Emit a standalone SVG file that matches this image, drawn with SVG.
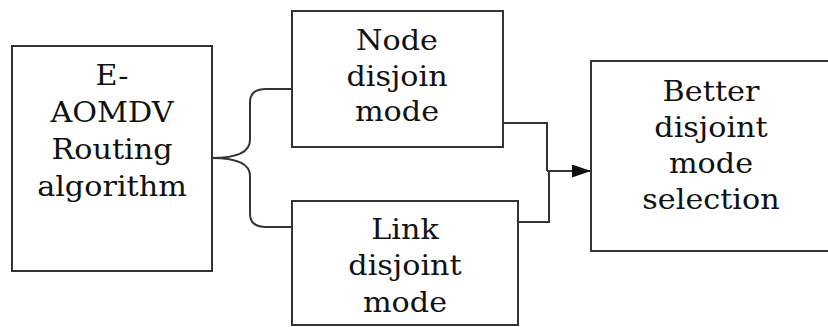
<svg xmlns="http://www.w3.org/2000/svg" width="828" height="327" viewBox="0 0 828 327">
  <style>
    .box { fill: #fff; stroke: #333; stroke-width: 2; }
    .lbl { font-family: "DejaVu Serif", "Liberation Serif", serif; font-size: 27px; fill: #111; text-anchor: middle; }
    .wire { fill: none; stroke: #333; stroke-width: 2; }
  </style>
  <defs>
    <marker id="arrow" markerWidth="19" markerHeight="13" refX="19" refY="6.5" orient="auto" markerUnits="userSpaceOnUse" viewBox="0 0 19 13">
      <path d="M0,0 L19,6.5 L0,13 Z" fill="#111"/>
    </marker>
  </defs>
  <rect width="828" height="327" fill="#fff"/>

  <g id="connectors">
    <!-- brace from the routing algorithm to both modes -->
    <path class="wire" d="M212,158 C238,158 250,152 250,140 L250,102 Q250,89 266,89 L292,89"/>
    <path class="wire" d="M212,158 C238,158 250,164 250,176 L250,214 Q250,227 266,227 L292,227"/>
    <!-- both modes merge into the selection -->
    <path class="wire" d="M503,123 L547,123 L547,171"/>
    <path class="wire" d="M518,222 L549,222 L549,171"/>
    <path class="wire" d="M547,171 L591,171" marker-end="url(#arrow)"/>
  </g>

  <g id="routing">
    <rect class="box" x="12" y="46" width="200" height="225"/>
    <g transform="translate(112,0) scale(1.12,1)">
      <text class="lbl" x="0" y="85">E-</text>
      <text class="lbl" x="0" y="122">AOMDV</text>
      <text class="lbl" x="0" y="159">Routing</text>
      <text class="lbl" x="0" y="196">algorithm</text>
    </g>
  </g>

  <g id="node-disjoin">
    <rect class="box" x="292" y="11" width="211" height="136"/>
    <g transform="translate(397,0) scale(1.12,1)">
      <text class="lbl" x="0" y="50">Node</text>
      <text class="lbl" x="0" y="86">disjoin</text>
      <text class="lbl" x="0" y="121">mode</text>
    </g>
  </g>

  <g id="link-disjoint">
    <rect class="box" x="292" y="201" width="226" height="124"/>
    <g transform="translate(405,0) scale(1.12,1)">
      <text class="lbl" x="0" y="239">Link</text>
      <text class="lbl" x="0" y="275">disjoint</text>
      <text class="lbl" x="0" y="312">mode</text>
    </g>
  </g>

  <g id="selection">
    <rect class="box" x="591" y="61" width="245" height="190"/>
    <g transform="translate(711,0) scale(1.12,1)">
      <text class="lbl" x="0" y="101">Better</text>
      <text class="lbl" x="0" y="137">disjoint</text>
      <text class="lbl" x="0" y="173">mode</text>
      <text class="lbl" x="0" y="209">selection</text>
    </g>
  </g>
</svg>
